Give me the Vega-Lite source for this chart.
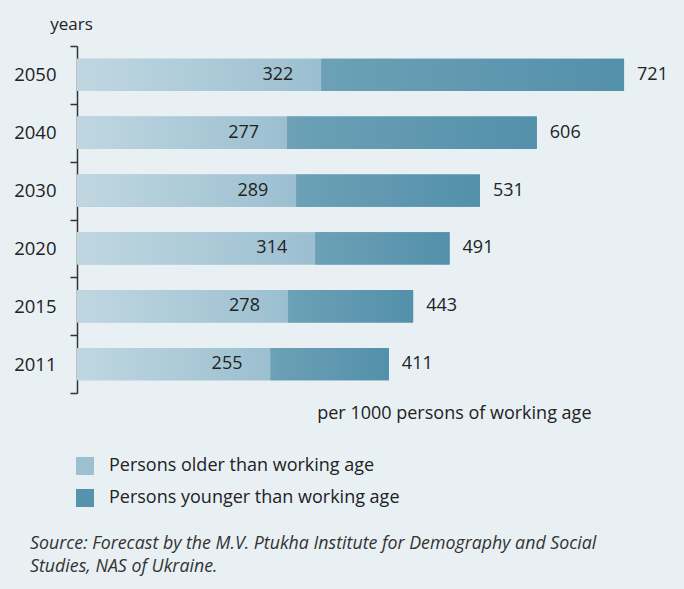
{
  "$schema": "https://vega.github.io/schema/vega-lite/v6.json",
  "width": 607,
  "height": 347,
  "autosize": "none",
  "padding": {"left": 77, "top": 46, "right": 0, "bottom": 196},
  "background": "#e8f0f4",
  "config": {
    "view": {"stroke": null},
    "font": "Open Sans",
    "axisX": {"domain": false, "ticks": false, "labels": false, "grid": false, "titleX": 514, "titleY": 20, "titleAlign": "right", "titleBaseline": "middle", "titleFontSize": 18, "titleFontWeight": "normal", "titleColor": "#222"}
  },
  "title": {
    "text": ["Source: Forecast by the M.V. Ptukha Institute for Demography and Social", "Studies, NAS of Ukraine."],
    "orient": "bottom",
    "anchor": "start",
    "frame": "group",
    "dx": -47,
    "dy": 24,
    "fontStyle": "italic",
    "fontWeight": "normal",
    "fontSize": 17.8,
    "lineHeight": 23,
    "color": "#333"
  },
  "data": {
    "values": [
      {"year": "2050", "Persons older than working age": 322, "Persons younger than working age": 399, "total": 721},
      {"year": "2040", "Persons older than working age": 277, "Persons younger than working age": 329, "total": 606},
      {"year": "2030", "Persons older than working age": 289, "Persons younger than working age": 242, "total": 531},
      {"year": "2020", "Persons older than working age": 314, "Persons younger than working age": 177, "total": 491},
      {"year": "2015", "Persons older than working age": 278, "Persons younger than working age": 165, "total": 443},
      {"year": "2011", "Persons older than working age": 255, "Persons younger than working age": 156, "total": 411}
    ]
  },
  "encoding": {
    "y": {
      "field": "year",
      "type": "nominal",
      "sort": ["2050", "2040", "2030", "2020", "2015", "2011"],
      "scale": {"paddingInner": 0, "paddingOuter": 0},
      "axis": {
        "title": "years",
        "titleAngle": 0,
        "titleX": -6,
        "titleY": -22,
        "titleAlign": "center",
        "titleBaseline": "middle",
        "titleFontWeight": "normal",
        "titleFontSize": 17,
        "titleColor": "#222",
        "labelFontSize": 18.5,
        "labelColor": "#222",
        "labelPadding": 14,
        "tickSize": 7,
        "tickColor": "#333",
        "tickWidth": 1.5,
        "domainColor": "#333",
        "domainWidth": 1.5,
        "tickBand": "extent",
        "grid": false
      }
    }
  },
  "layer": [
    {
      "transform": [{"fold": ["Persons older than working age", "Persons younger than working age"], "as": ["group", "value"]}],
      "mark": {"type": "bar", "height": {"band": 0.56}},
      "encoding": {
        "x": {"field": "value", "type": "quantitative", "stack": "zero", "scale": {"domain": [0, 794]}, "title": "per 1000 persons of working age"},
        "color": {
          "field": "group",
          "type": "nominal",
          "scale": {"domain": ["Persons older than working age", "Persons younger than working age"], "range": ["#9dc0d1", "#5592ab"]},
          "legend": {
            "title": null,
            "orient": "none",
            "legendX": -1,
            "legendY": 411,
            "symbolType": "square",
            "symbolSize": 324,
            "symbolStrokeWidth": 0,
            "symbolOpacity": 1,
            "labelFontSize": 18,
            "labelColor": "#222",
            "labelOffset": 15,
            "labelLimit": 500,
            "rowPadding": 14,
            "padding": 0
          }
        }
      }
    },
    {
      "mark": {"type": "bar", "height": {"band": 0.56}, "fill": {"gradient": "linear", "x1": 0, "x2": 1, "y1": 0, "y2": 0, "stops": [{"offset": 0, "color": "#c0d7e1"}, {"offset": 1, "color": "#9bbfd0"}]}},
      "encoding": {
        "x": {"field": "Persons older than working age", "type": "quantitative", "title": "per 1000 persons of working age"}
      }
    },
    {
      "mark": {"type": "bar", "height": {"band": 0.56}, "fill": {"gradient": "linear", "x1": 0, "x2": 1, "y1": 0, "y2": 0, "stops": [{"offset": 0, "color": "#6ca1b6"}, {"offset": 1, "color": "#5390aa"}]}},
      "encoding": {
        "x": {"field": "Persons older than working age", "type": "quantitative", "title": "per 1000 persons of working age"},
        "x2": {"field": "total"}
      }
    },
    {
      "mark": {"type": "text", "align": "right", "baseline": "middle", "dx": -28, "fontSize": 18, "color": "#222"},
      "encoding": {
        "x": {"field": "Persons older than working age", "type": "quantitative", "title": "per 1000 persons of working age"},
        "text": {"field": "Persons older than working age"}
      }
    },
    {
      "mark": {"type": "text", "align": "left", "baseline": "middle", "dx": 13, "fontSize": 18, "color": "#222"},
      "encoding": {
        "x": {"field": "total", "type": "quantitative", "title": "per 1000 persons of working age"},
        "text": {"field": "total"}
      }
    }
  ]
}
